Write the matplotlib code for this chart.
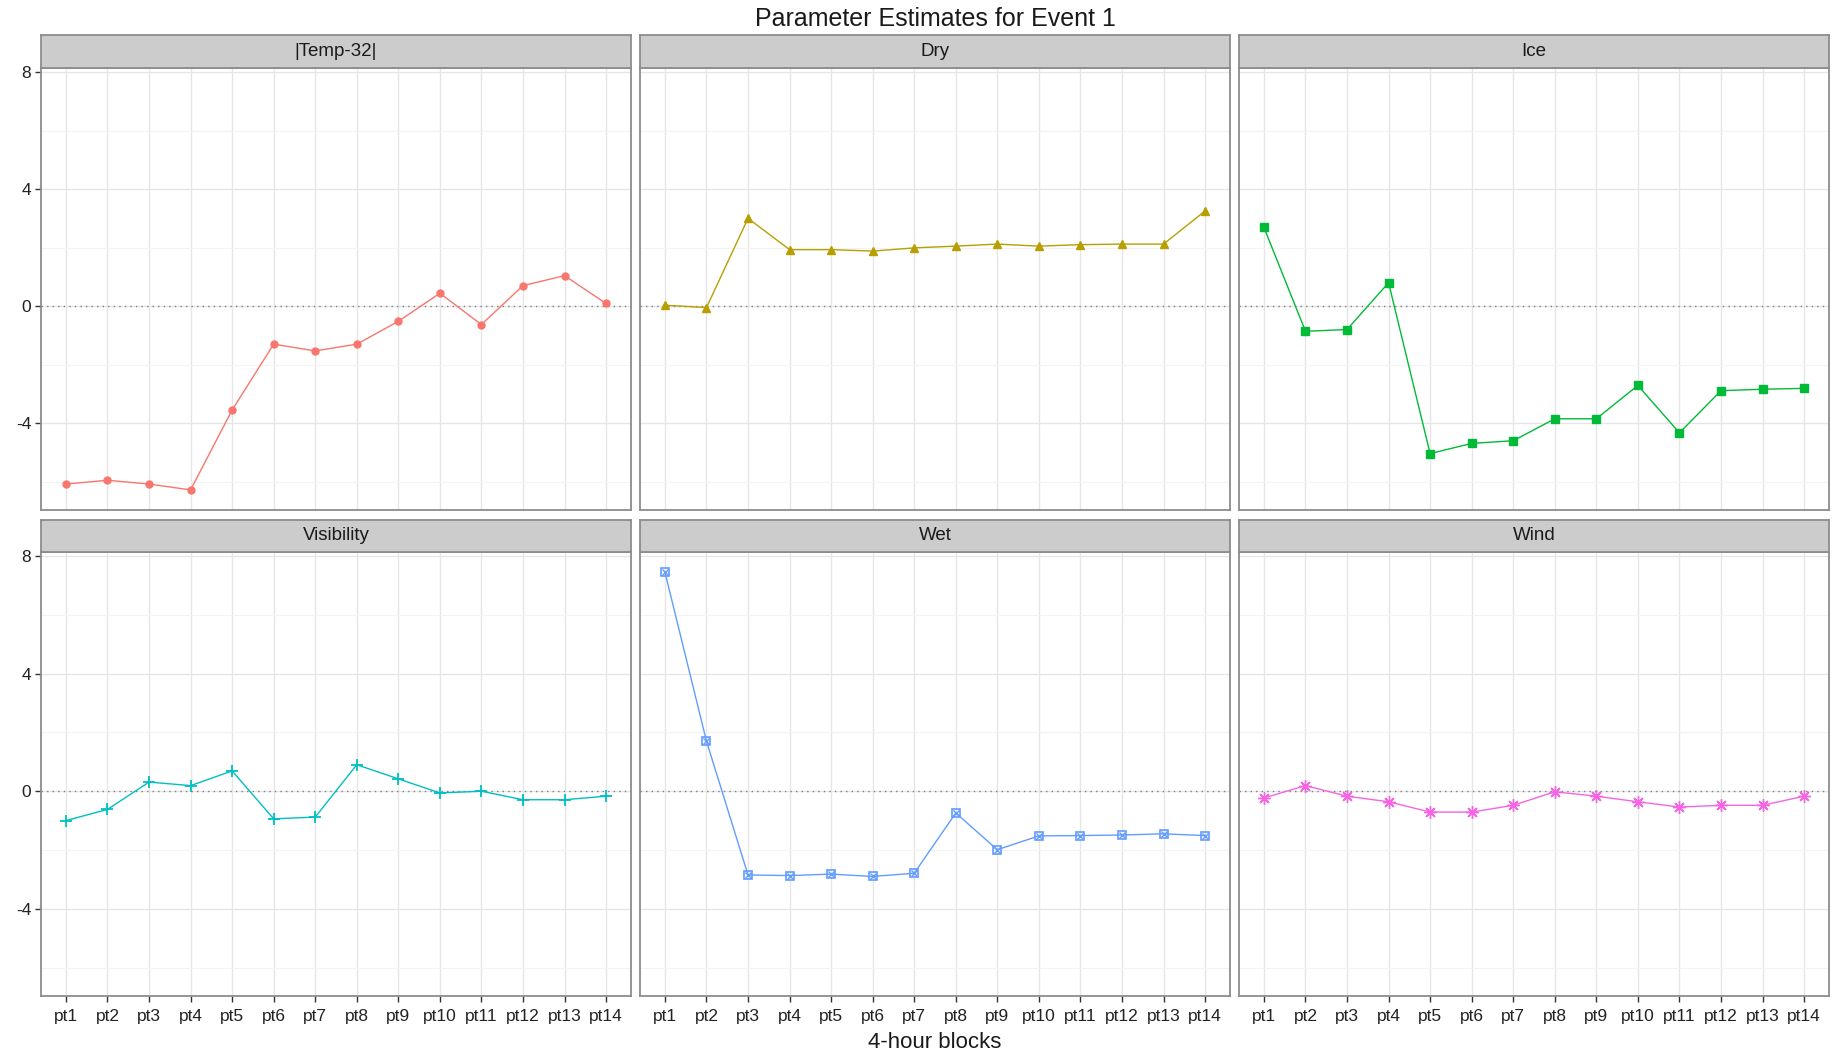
import numpy as np
import matplotlib
matplotlib.use("Agg")
import matplotlib.pyplot as plt

plt.rcParams['font.family'] = ['Liberation Sans', 'DejaVu Sans']

# ---------- DATA ----------
blocks = ["pt1", "pt2", "pt3", "pt4", "pt5", "pt6", "pt7",
          "pt8", "pt9", "pt10", "pt11", "pt12", "pt13", "pt14"]

params = ["|Temp-32|", "Dry", "Ice", "Visibility", "Wet", "Wind"]

temp32 = [-6.08, -5.95, -6.08, -6.28, -3.55, -1.30, -1.53,
          -1.30, -0.52, 0.44, -0.63, 0.70, 1.04, 0.09]
dry = [0.03, -0.05, 3.00, 1.93, 1.93, 1.88, 1.99,
       2.05, 2.12, 2.05, 2.10, 2.12, 2.12, 3.25]
ice = [2.69, -0.86, -0.80, 0.80, -5.04, -4.69, -4.60,
       -3.85, -3.85, -2.71, -4.33, -2.89, -2.84, -2.81]
visibility = [-1.00, -0.62, 0.31, 0.19, 0.69, -0.94, -0.88,
              0.90, 0.42, -0.06, 0.00, -0.29, -0.29, -0.17]
wet = [7.45, 1.70, -2.85, -2.87, -2.82, -2.90, -2.79,
       -0.74, -1.99, -1.52, -1.51, -1.49, -1.45, -1.51]
wind = [-0.23, 0.19, -0.17, -0.36, -0.71, -0.71, -0.48,
        -0.02, -0.17, -0.36, -0.54, -0.48, -0.48, -0.17]

series = [temp32, dry, ice, visibility, wet, wind]
colors = ["#F8766D", "#B79F00", "#00BA38", "#00BFC4", "#619CFF", "#F564E3"]

# ---------- LAYOUT (pixels) ----------
W, H = 1832, 1054
fig = plt.figure(figsize=(W / 100, H / 100), dpi=100)

cols = [(41, 631), (640, 1230), (1239, 1829)]
rows = [(35, 68, 510), (520, 552, 996)]

x = np.arange(1, len(blocks) + 1)
allv = np.concatenate([np.array(s) for s in series])
lo, hi = allv.min(), allv.max()
pad = 0.05 * (hi - lo)
ylim = (lo - pad, hi + pad)

border = "#8C8C8C"
text_dark = "#1A1A1A"


def draw_marker(ax, i, xs, ys, c):
    if i == 0:
        ax.plot(xs, ys, 'o', color=c, ms=5, zorder=4)
    elif i == 1:
        ax.plot(xs, ys, '^', color=c, ms=6, zorder=4)
    elif i == 2:
        ax.plot(xs, ys, 's', color=c, ms=5.5, zorder=4)
    elif i == 3:
        ax.plot(xs, ys, '+', color=c, ms=9, mew=1.3, zorder=4)
    elif i == 4:
        ax.plot(xs, ys, 's', mfc='none', mec=c, ms=6, mew=1.2, zorder=4)
        ax.plot(xs, ys, 'x', color=c, ms=4, mew=1.0, zorder=4)
    else:
        ax.plot(xs, ys, marker=(8, 2, 0), ls='none', color=c, ms=9,
                mew=1.0, zorder=4)


for i, (name, vals) in enumerate(zip(params, series)):
    r, cidx = divmod(i, 3)
    x0, x1 = cols[cidx]
    st, sb, pb = rows[r]

    ax = fig.add_axes([x0 / W, 1 - pb / H, (x1 - x0) / W, (pb - sb) / H])
    ax.set_facecolor("white")
    ax.set_xlim(0.4, len(blocks) + 0.6)
    ax.set_ylim(*ylim)

    ax.set_xticks(x)
    ax.set_yticks([-4, 0, 4, 8])
    ax.set_yticks([-6, -2, 2, 6], minor=True)
    ax.grid(True, which='major', color="#E6E6E6", lw=1.0)
    ax.grid(True, which='minor', axis='y', color="#F3F3F3", lw=0.8)
    ax.set_axisbelow(True)

    ax.axhline(0, color="#7F7F7F", ls=(0, (1, 3)), lw=1.0, zorder=2)
    ax.plot(x, vals, '-', color=colors[i], lw=1.0, zorder=3)
    draw_marker(ax, i, x, vals, colors[i])

    for sp in ax.spines.values():
        sp.set_color(border)
        sp.set_linewidth(1.3)

    ax.tick_params(which='both', length=0)
    ax.tick_params(which='major', length=4, width=1, color="#333333",
                   labelsize=12.5, labelcolor="#222222", pad=3)
    ax.tick_params(which='minor', length=0)
    if cidx == 0:
        ax.set_yticklabels(["-4", "0", "4", "8"])
    else:
        ax.tick_params(axis='y', which='major', length=0, labelleft=False)
    if r == 1:
        ax.set_xticklabels(blocks)
        ax.tick_params(axis='x', pad=5)
    else:
        ax.tick_params(axis='x', length=0, labelbottom=False)

    # facet strip
    sax = fig.add_axes([x0 / W, 1 - sb / H, (x1 - x0) / W, (sb - st) / H])
    sax.set_facecolor("#CCCCCC")
    sax.set_xticks([])
    sax.set_yticks([])
    for sp in sax.spines.values():
        sp.set_color(border)
        sp.set_linewidth(1.3)
    sax.text(0.5, 0.5, name, ha='center', va='center', fontsize=13.5,
             color=text_dark, transform=sax.transAxes)

fig.text(935 / W, 1 - 19 / H, "Parameter Estimates for Event 1",
         ha='center', va='center', fontsize=18, color=text_dark)
fig.text(935 / W, 1 - 1042 / H, "4-hour blocks",
         ha='center', va='center', fontsize=16, color=text_dark)

fig.savefig("out.png", dpi=100, facecolor="white")
